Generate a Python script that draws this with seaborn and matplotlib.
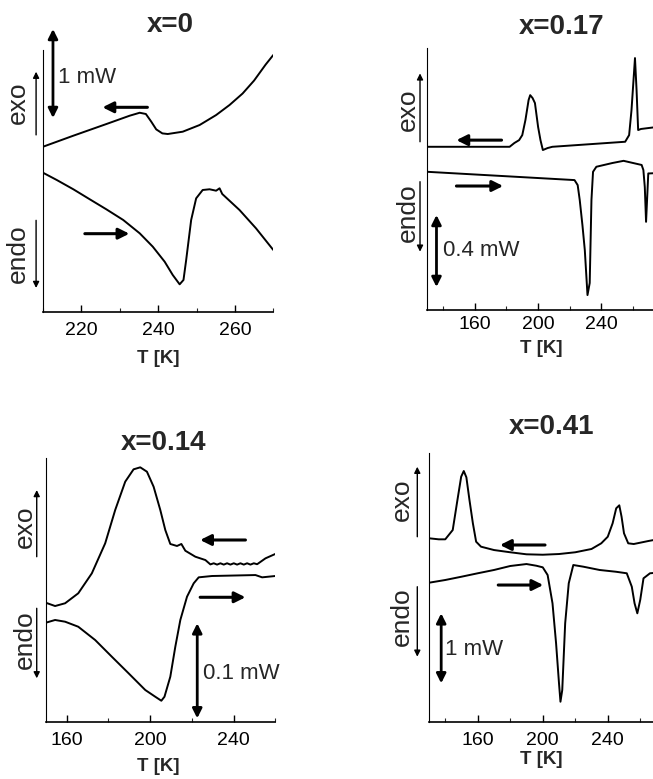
# dsc_panels.py
# DSC traces (cooling / heating) for four compositions x

import numpy as np
import matplotlib
matplotlib.use("Agg")
import matplotlib.pyplot as plt
import seaborn as sns

sns.set_theme(style="ticks")
plt.rcParams["font.family"] = ["Liberation Sans", "DejaVu Sans"]

# ---- data (T in K, heat flow in mW, arbitrary offset) ----
# x = 0
t_cool_x0 = [210, 217.9, 226.5, 232.6, 235.2, 236.8, 238.2, 239.5, 241.1, 242.5, 246.4, 250.8, 255.1, 258.6,
             262, 265, 268, 270]
q_cool_x0 = [1.857, 1.981, 2.112, 2.206, 2.239, 2.225, 2.139, 2.052, 2.007, 2.000, 2.026, 2.101, 2.213, 2.326,
             2.455, 2.601, 2.780, 2.888]
t_heat_x0 = [210, 213.6, 217.9, 222.2, 226.5, 230.9, 235.2, 238.6, 241.7, 243.8, 245.6, 246.6, 247.3, 248.6,
             249.9, 251.6, 253.4, 255.1, 256.0, 256.7, 261.2, 265.5, 270]
q_heat_x0 = [1.565, 1.483, 1.379, 1.266, 1.154, 1.034, 0.884, 0.734, 0.565, 0.416, 0.311, 0.360, 0.584, 1.034,
             1.277, 1.371, 1.379, 1.363, 1.390, 1.326, 1.146, 0.940, 0.697]

# x = 0.17
t_cool_x017 = [130, 182, 185, 188, 190, 192, 194, 195, 196.5, 198, 200, 201.5, 203, 206, 209, 255, 257.5, 259,
               261.2, 262.2, 263.2, 265, 275]
q_cool_x017 = [0.907, 0.907, 0.928, 0.944, 0.972, 1.056, 1.167, 1.194, 1.178, 1.150, 1.017, 0.944, 0.889, 0.900,
               0.907, 0.935, 0.972, 1.111, 1.400, 1.222, 1.000, 1.006, 1.017]
t_heat_x017 = [130, 223, 225, 226.3, 228, 229.5, 231.2, 232.6, 233.7, 234.7, 236.8, 247, 254, 265.4, 266.5, 267.4,
               268.2, 269.6, 270.5, 275]
q_heat_x017 = [0.768, 0.722, 0.694, 0.611, 0.472, 0.333, 0.083, 0.150, 0.611, 0.768, 0.796, 0.817, 0.829, 0.806,
               0.778, 0.683, 0.490, 0.759, 0.759, 0.761]

# x = 0.14
t_cool_x014 = [150, 154.5, 159.3, 165.6, 172.1, 178.5, 183.3, 188.1, 192.1, 195.3, 198.5, 201.7, 204.9, 207.3,
               209.7, 212.9, 215, 216.9, 221.7, 226.5, 228.9, 230.5, 232.1, 233.7, 235.3, 236.9, 238.5, 240.1,
               241.7, 243.3, 244.9, 246.5, 248.1, 249.7, 251.3, 255.3, 260]
q_cool_x014 = [0.1259, 0.1224, 0.1253, 0.1358, 0.1568, 0.1884, 0.2235, 0.2533, 0.2663, 0.2684, 0.2638, 0.2480,
               0.2235, 0.2024, 0.1877, 0.1856, 0.1877, 0.1806, 0.1743, 0.1708, 0.1662, 0.1674, 0.1660, 0.1674,
               0.1660, 0.1674, 0.1660, 0.1674, 0.1660, 0.1674, 0.1660, 0.1674, 0.1660, 0.1674, 0.1664, 0.1726,
               0.1772]
t_heat_x014 = [150, 154.5, 159.3, 165.6, 173.7, 181.7, 189.7, 197.7, 202.5, 205.4, 206.9, 209.7, 212.1, 214.5,
               217.7, 220.9, 223.3, 229.7, 250.5, 253.7, 260]
q_heat_x014 = [0.1048, 0.1077, 0.1059, 0.1006, 0.0866, 0.0690, 0.0516, 0.0340, 0.0269, 0.0227, 0.0269, 0.0480,
               0.0796, 0.1077, 0.1322, 0.1463, 0.1526, 0.1540, 0.1550, 0.1526, 0.1540]

# x = 0.41
t_cool_x041 = [130, 136, 140, 144.6, 147.5, 149.8, 151.4, 153, 154.9, 157, 159, 162, 170, 180, 190, 200, 210, 220,
               230, 236, 240, 243, 245.2, 247.1, 248.5, 250, 252.6, 256, 260, 265, 275]
q_cool_x041 = [2.629, 2.614, 2.614, 2.747, 3.176, 3.509, 3.590, 3.500, 3.176, 2.843, 2.580, 2.509, 2.461, 2.429,
               2.400, 2.394, 2.404, 2.429, 2.476, 2.557, 2.651, 2.843, 3.057, 3.100, 2.937, 2.700, 2.557, 2.547,
               2.566, 2.590, 2.633]
t_heat_x041 = [130, 140, 150, 160, 170, 180, 190, 196, 200, 203, 206, 208.2, 210, 210.9, 212, 213.8, 216, 218.8,
               225, 235, 245, 251.7, 254.8, 256.5, 258.2, 260, 262, 266, 275]
q_heat_x041 = [1.994, 2.033, 2.080, 2.129, 2.176, 2.233, 2.261, 2.237, 2.214, 2.104, 1.700, 1.129, 0.557, 0.294,
               0.461, 1.414, 1.986, 2.247, 2.223, 2.176, 2.151, 2.129, 1.937, 1.700, 1.557, 1.750, 2.057, 2.129,
               2.147]

titles = ["x=0", "x=0.17", "x=0.14", "x=0.41"]
scale_labels = ["1 mW", "0.4 mW", "0.1 mW", "1 mW"]

W, H = 653, 779


def box(l, t, w, h):
    return [l / W, 1 - (t + h) / H, w / W, h / H]


panels = [
    dict(t_cool=t_cool_x0, q_cool=q_cool_x0, t_heat=t_heat_x0, q_heat=q_heat_x0,
         rect=box(43, 50, 230.3, 262), xlim=(210, 270), ylim=(0, 2.944),
         major=[220, 240, 260], minor=np.arange(210, 271, 10), pad=7,
         title_xy=(170, 25), xlabel_xy=(158, 358),
         cool_arrow=((237.2, 2.30), (225.5, 2.30)), heat_arrow=((220.9, 0.88), (232.5, 0.88)),
         bar=(212.6, 3.18, 2.18), bar_text=(213.9, 2.63),
         side_x=(203.5, 208.2), exo=(2.35, 1.99, 2.70), endo=(0.66, 1.03, 0.27)),
    dict(t_cool=t_cool_x017, q_cool=q_cool_x017, t_heat=t_heat_x017, q_heat=q_heat_x017,
         rect=box(427.3, 48, 269.1, 262), xlim=(130, 300), ylim=(0, 1.456),
         major=[160, 200, 240], minor=np.arange(140, 300, 20), pad=4,
         title_xy=(561.7, 26.7), xlabel_xy=(541.7, 348.3),
         cool_arrow=((176.9, 0.944), (148.4, 0.944)), heat_arrow=((148.4, 0.689), (177.9, 0.689)),
         bar=(135.8, 0.528, 0.128), bar_text=(139.9, 0.333),
         side_x=(118.0, 125.4), exo=(1.111, 0.935, 1.315), endo=(0.539, 0.713, 0.324)),
    dict(t_cool=t_cool_x014, q_cool=q_cool_x014, t_heat=t_heat_x014, q_heat=q_heat_x014,
         rect=box(45.7, 458.3, 229.6, 264), xlim=(150, 260), ylim=(0, 0.2779),
         major=[160, 200, 240], minor=np.arange(180, 261, 20), pad=7,
         title_xy=(163.3, 443.3), xlabel_xy=(158.3, 766.7),
         cool_arrow=((245.7, 0.1919), (224.0, 0.1919)), heat_arrow=((224.0, 0.1316), (245.7, 0.1316)),
         bar=(222.6, 0.1042, 0.0042), bar_text=(225.5, 0.0516),
         side_x=(140.1, 145.7), exo=(0.2059, 0.1743, 0.2445), endo=(0.0866, 0.1200, 0.0463)),
    dict(t_cool=t_cool_x041, q_cool=q_cool_x041, t_heat=t_heat_x041, q_heat=q_heat_x041,
         rect=box(429, 453.3, 276.25, 269), xlim=(130, 300), ylim=(0, 3.843),
         major=[160, 200, 240], minor=np.arange(140, 300, 20), pad=7,
         title_xy=(551.7, 426.7), xlabel_xy=(541.7, 760),
         cool_arrow=((201.4, 2.533), (173.7, 2.533)), heat_arrow=((172.6, 1.961), (200.3, 1.961)),
         bar=(137.5, 1.557, 0.557), bar_text=(139.8, 1.033),
         side_x=(113.2, 122.8), exo=(3.176, 2.651, 3.651), endo=(1.509, 1.937, 0.937)),
]

fig = plt.figure(figsize=(W / 100, H / 100), dpi=100)

for p, title, sl in zip(panels, titles, scale_labels):
    ax = fig.add_axes(p["rect"])
    sns.lineplot(x=p["t_cool"], y=p["q_cool"], ax=ax, color="black", lw=1.4)
    sns.lineplot(x=p["t_heat"], y=p["q_heat"], ax=ax, color="black", lw=1.4)
    ax.set_xlim(*p["xlim"])
    ax.set_ylim(*p["ylim"])
    ax.set_xticks(p["major"])
    ax.set_xticks(p["minor"], minor=True)
    ax.set_yticks([])
    ax.tick_params(axis="x", which="major", direction="in", length=5, width=1, labelsize=14,
                   pad=p["pad"], colors="black")
    ax.tick_params(axis="x", which="minor", direction="in", length=3, width=0.8)
    for s in ("top", "right"):
        ax.spines[s].set_visible(False)
    ax.spines["left"].set_linewidth(0.8)
    ax.spines["bottom"].set_linewidth(1.2)
    ax.spines["left"].set_color("black")
    ax.spines["bottom"].set_color("black")
    ax.set_xlabel("")
    ax.set_ylabel("")

    # direction arrows
    thick = dict(arrowstyle="-|>", color="black", lw=2.2, mutation_scale=16, shrinkA=0, shrinkB=0)
    (x0, y0), (x1, y1) = p["cool_arrow"]
    ax.annotate("", xy=(x1, y1), xytext=(x0, y0), arrowprops=thick, annotation_clip=False)
    (x0, y0), (x1, y1) = p["heat_arrow"]
    ax.annotate("", xy=(x1, y1), xytext=(x0, y0), arrowprops=thick, annotation_clip=False)

    # scale bar
    bx, btop, bbot = p["bar"]
    ax.annotate("", xy=(bx, btop), xytext=(bx, bbot),
                arrowprops=dict(arrowstyle="<|-|>", color="black", lw=2.0, mutation_scale=14,
                                shrinkA=0, shrinkB=0), annotation_clip=False)
    ax.text(p["bar_text"][0], p["bar_text"][1], sl, fontsize=16, ha="left", va="center")

    # exo / endo markers
    tx, axx = p["side_x"]
    ey, e0, e1 = p["exo"]
    ax.text(tx, ey, "exo", rotation=90, fontsize=19, ha="center", va="center", clip_on=False)
    ax.annotate("", xy=(axx, e1), xytext=(axx, e0),
                arrowprops=dict(arrowstyle="-|>", color="black", lw=1.0, mutation_scale=9,
                                shrinkA=0, shrinkB=0), annotation_clip=False)
    ny, n0, n1 = p["endo"]
    ax.text(tx, ny, "endo", rotation=90, fontsize=19, ha="center", va="center", clip_on=False)
    ax.annotate("", xy=(axx, n1), xytext=(axx, n0),
                arrowprops=dict(arrowstyle="-|>", color="black", lw=1.0, mutation_scale=9,
                                shrinkA=0, shrinkB=0), annotation_clip=False)

    fig.text(p["title_xy"][0] / W, 1 - p["title_xy"][1] / H, title, fontsize=20, fontweight="bold",
             ha="center", va="center")
    fig.text(p["xlabel_xy"][0] / W, 1 - p["xlabel_xy"][1] / H, "T [K]", fontsize=13.5, fontweight="bold",
             ha="center", va="center")

fig.savefig("out.png", dpi=100)
